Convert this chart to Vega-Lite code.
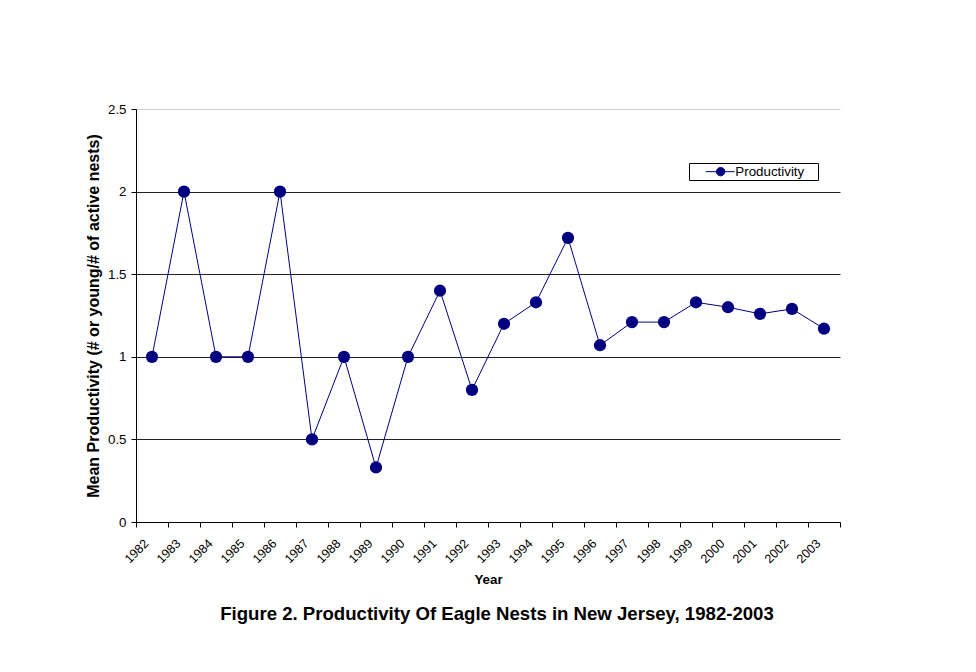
{
  "$schema": "https://vega.github.io/schema/vega-lite/v6.json",
  "autosize": {"type": "none"},
  "width": 704,
  "height": 413,
  "padding": {"left": 136, "top": 109, "right": 136, "bottom": 150},
  "background": "white",
  "config": {
    "view": {"stroke": null},
    "font": "Liberation Sans"
  },
  "title": {
    "text": "Figure 2. Productivity Of Eagle Nests in New Jersey, 1982-2003",
    "orient": "bottom",
    "fontSize": 18.6,
    "fontWeight": "bold",
    "font": "Liberation Sans",
    "color": "black",
    "offset": 19,
    "dx": 9,
    "anchor": "middle"
  },
  "data": {
    "values": [
      {"year": "1982", "productivity": 1.0},
      {"year": "1983", "productivity": 2.0},
      {"year": "1984", "productivity": 1.0},
      {"year": "1985", "productivity": 1.0},
      {"year": "1986", "productivity": 2.0},
      {"year": "1987", "productivity": 0.5},
      {"year": "1988", "productivity": 1.0},
      {"year": "1989", "productivity": 0.33},
      {"year": "1990", "productivity": 1.0},
      {"year": "1991", "productivity": 1.4},
      {"year": "1992", "productivity": 0.8},
      {"year": "1993", "productivity": 1.2},
      {"year": "1994", "productivity": 1.33},
      {"year": "1995", "productivity": 1.72},
      {"year": "1996", "productivity": 1.07},
      {"year": "1997", "productivity": 1.21},
      {"year": "1998", "productivity": 1.21},
      {"year": "1999", "productivity": 1.33},
      {"year": "2000", "productivity": 1.3},
      {"year": "2001", "productivity": 1.26},
      {"year": "2002", "productivity": 1.29},
      {"year": "2003", "productivity": 1.17}
    ]
  },
  "encoding": {
    "x": {
      "field": "year",
      "type": "nominal",
      "sort": null,
      "scale": {"paddingInner": 0, "paddingOuter": 0},
      "axis": {
        "title": "Year",
        "titleFontSize": 13.33,
        "titleFontWeight": "bold",
        "titleColor": "black",
        "titlePadding": 7,
        "labelAngle": -45,
        "labelAlign": "right",
        "labelBaseline": "middle",
        "labelFontSize": 12.5,
        "labelColor": "black",
        "labelPadding": 14,
        "labelOffset": -6,
        "tickBand": "extent",
        "tickColor": "black",
        "tickSize": 5,
        "domainColor": "black",
        "grid": false
      }
    },
    "y": {
      "field": "productivity",
      "type": "quantitative",
      "scale": {"domain": [0, 2.5], "nice": false},
      "axis": {
        "title": "Mean Productivity (# or young/# of active nests)",
        "titleFontSize": 16,
        "titleFontWeight": "bold",
        "titleColor": "black",
        "titlePadding": 6,
        "values": [0, 0.5, 1, 1.5, 2, 2.5],
        "format": "~g",
        "labelFontSize": 13.33,
        "labelColor": "black",
        "labelPadding": 5,
        "tickColor": "black",
        "tickSize": 5,
        "domainColor": "black",
        "grid": true,
        "gridColor": {"condition": {"test": "datum.value === 2.5", "value": "#d0d0d0"}, "value": "#222222"},
        "gridWidth": 1
      }
    },
    "color": {
      "datum": "Productivity",
      "type": "nominal",
      "scale": {"range": ["#000080"]},
      "legend": {
        "title": null,
        "orient": "none",
        "legendX": 553,
        "legendY": 54,
        "strokeColor": "black",
        "padding": 2,
        "labelFontSize": 13.33,
        "labelColor": "black",
        "labelOffset": 31,
        "labelExpr": "datum.label + '   \u200b'",
        "symbolType": "M 1.6 0 L 7.4 0 M 3.76 0 A 0.84 0.84 0 1 1 5.44 0 A 0.84 0.84 0 1 1 3.76 0 Z",
        "symbolSize": 100,
        "symbolStrokeWidth": 1,
        "symbolFillColor": "#000080",
        "symbolStrokeColor": "#000080"
      }
    }
  },
  "layer": [
    {"mark": {"type": "line", "strokeWidth": 1}},
    {"mark": {"type": "point", "filled": true, "size": 150, "opacity": 1, "shape": "circle"}}
  ]
}
